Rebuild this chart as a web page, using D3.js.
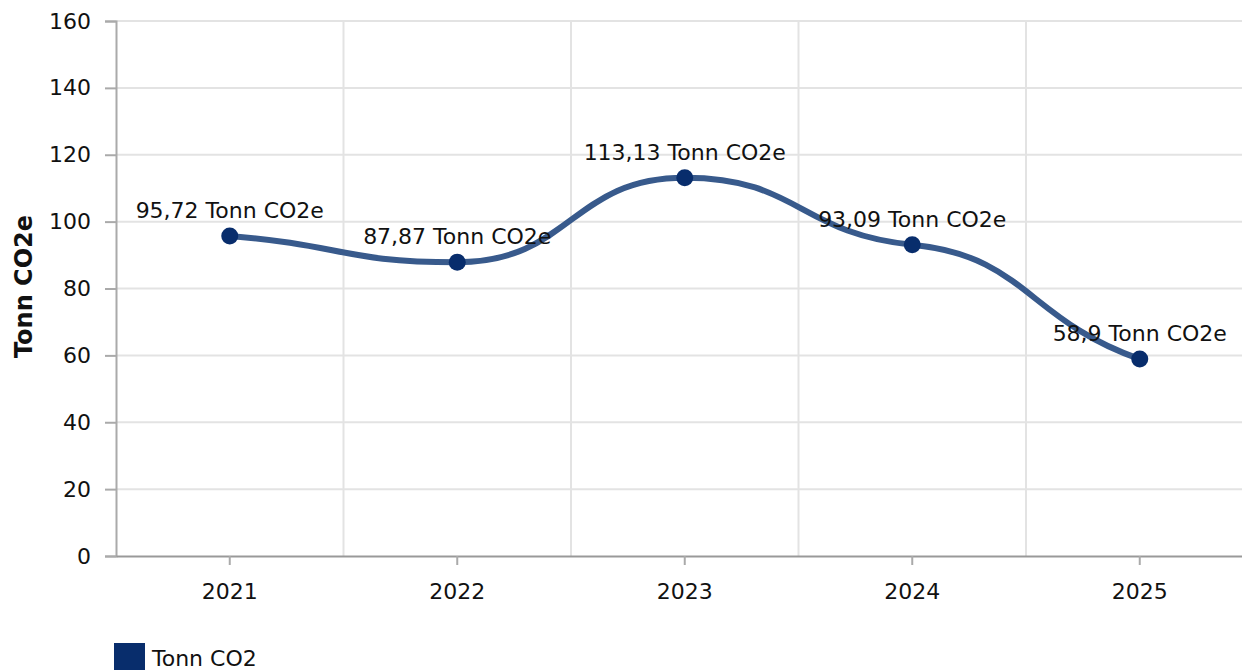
<!DOCTYPE html>
<html>
<head>
  <meta charset="utf-8">
  <title>Tonn CO2e</title>
  <script src="https://d3js.org/d3.v7.min.js"></script>
  <style>
    body { margin: 0; background: #fff; }
    text { font-family: Verdana, "DejaVu Sans", sans-serif; fill: #111; }
  </style>
</head>
<body>
  <svg id="chart"></svg>

  <script>
    // Data
    const years = ["2021", "2022", "2023", "2024", "2025"];
    const values = [95.72, 87.87, 113.13, 93.09, 58.9];
    const yTicks = [0, 20, 40, 60, 80, 100, 120, 140, 160];
    const seriesName = "Tonn CO2";
    const unit = "Tonn CO2e";

    const width = 1242, height = 670;
    const svg = d3.select("#chart").attr("width", width).attr("height", height);

    const x = d3.scaleBand().domain(years).range([116, 1253.5]);
    const y = d3.scaleLinear().domain([0, 160]).range([556, 21]);

    // Glatt kurve: kontrollpunkter midt i hvert intervall,
    // flat tangent i topper/bunner, svak helning ellers
    function smoothCurve(context) {
      return {
        areaStart() {}, areaEnd() {},
        lineStart() { this.px = []; this.py = []; },
        point(x, y) { this.px.push(+x); this.py.push(+y); },
        lineEnd() {
          const X = this.px, Y = this.py, n = X.length;
          const m = [];
          for (let i = 0; i < n; i++) {
            if (i === 0) m[i] = 0.7 * (Y[1] - Y[0]) / (X[1] - X[0]);
            else if (i === n - 1) m[i] = 0.7 * (Y[i] - Y[i - 1]) / (X[i] - X[i - 1]);
            else {
              const a = Y[i] - Y[i - 1], b = Y[i + 1] - Y[i];
              m[i] = a * b <= 0 ? 0 : 0.25 * (Y[i + 1] - Y[i - 1]) / (X[i + 1] - X[i - 1]);
            }
          }
          context.moveTo(X[0], Y[0]);
          for (let i = 1; i < n; i++) {
            const d = (X[i] - X[i - 1]) / 2;
            context.bezierCurveTo(X[i - 1] + d, Y[i - 1] + d * m[i - 1],
                                  X[i] - d, Y[i] - d * m[i], X[i], Y[i]);
          }
        }
      };
    }

    // Gridlines
    svg.append("g").selectAll("line")
      .data(yTicks.slice(1))
      .join("line")
      .attr("x1", 116).attr("x2", width)
      .attr("y1", d => y(d)).attr("y2", d => y(d))
      .attr("stroke", "#e3e3e3").attr("stroke-width", 2);

    svg.append("g").selectAll("line")
      .data(years.slice(1))
      .join("line")
      .attr("x1", d => x(d)).attr("x2", d => x(d))
      .attr("y1", y(160)).attr("y2", y(0))
      .attr("stroke", "#e3e3e3").attr("stroke-width", 2);

    // Y axis
    const yAxis = svg.append("g")
      .attr("transform", "translate(116,0)")
      .call(d3.axisLeft(y).tickValues(yTicks).tickSize(11).tickPadding(14));
    yAxis.select(".domain").attr("stroke", "#aaa").attr("stroke-width", 2);
    yAxis.selectAll(".tick line").attr("stroke", "#aaa").attr("stroke-width", 2);
    yAxis.selectAll(".tick text").style("font-size", "22px").attr("fill", "#111");

    // X axis
    const xAxis = svg.append("g")
      .attr("transform", `translate(0,${y(0)})`)
      .call(d3.axisBottom(x).tickSize(9).tickPadding(18).tickSizeOuter(0));
    xAxis.select(".domain").attr("stroke", "#999").attr("stroke-width", 2);
    xAxis.selectAll(".tick line").attr("stroke", "#aaa").attr("stroke-width", 2);
    xAxis.selectAll(".tick text").style("font-size", "22px").attr("fill", "#111");

    // Y axis title
    svg.append("text")
      .attr("transform", `translate(32,${y(80) - 2}) rotate(-90)`)
      .attr("text-anchor", "middle")
      .style("font-size", "24px")
      .style("font-weight", "bold")
      .text(unit);

    // Line
    const cx = d => x(d) + x.bandwidth() / 2;
    const line = d3.line()
      .x((d, i) => cx(years[i]))
      .y(d => y(d))
      .curve(smoothCurve);

    svg.append("path")
      .datum(values)
      .attr("d", line)
      .attr("fill", "none")
      .attr("stroke", "#385a8c")
      .attr("stroke-width", 6);

    // Points
    svg.append("g").selectAll("circle")
      .data(values)
      .join("circle")
      .attr("cx", (d, i) => cx(years[i]))
      .attr("cy", d => y(d))
      .attr("r", 8.5)
      .attr("fill", "#082d6c");

    // Labels
    svg.append("g").selectAll("text")
      .data(values)
      .join("text")
      .attr("x", (d, i) => cx(years[i]))
      .attr("y", d => y(d) - 18)
      .attr("text-anchor", "middle")
      .style("font-size", "22px")
      .text(d => String(d).replace(".", ",") + " " + unit);

    // Legend
    svg.append("rect")
      .attr("x", 114).attr("y", 643)
      .attr("width", 31).attr("height", 31)
      .attr("fill", "#082d6c");
    svg.append("text")
      .attr("x", 152).attr("y", 666)
      .style("font-size", "22px")
      .text(seriesName);
  </script>
</body>
</html>
